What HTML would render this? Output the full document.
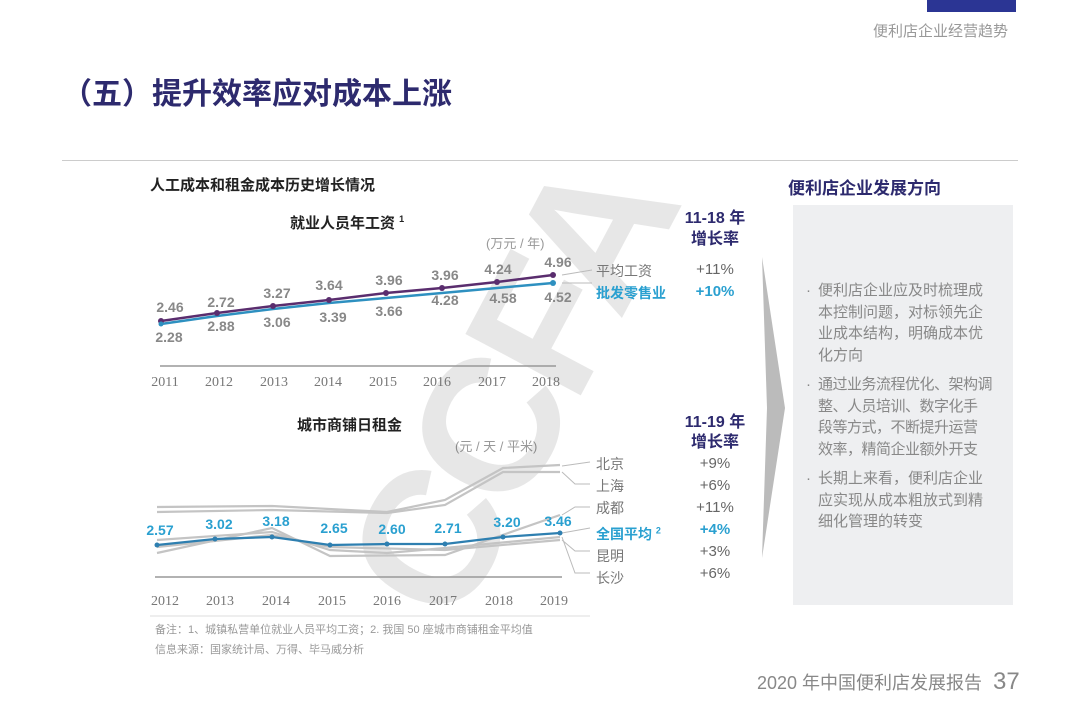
<!DOCTYPE html>
<html><head><meta charset="utf-8"><style>
body{margin:0;width:1080px;height:722px;background:#fff;position:relative;overflow:hidden;font-family:"Liberation Sans","Noto Sans CJK SC",sans-serif}
.a{position:absolute;white-space:nowrap}
</style></head><body>
<div class="a" style="left:927px;top:0;width:89px;height:12px;background:#2b3594"></div>
<div class="a" style="left:873px;top:20px;font-size:15px;color:#999">便利店企业经营趋势</div>
<div class="a" style="left:62px;top:69px;font-size:30px;font-weight:bold;color:#2d2a6e">（五）提升效率应对成本上涨</div>
<div class="a" style="left:62px;top:160px;width:956px;height:1px;background:#ccc"></div>
<div class="a" style="left:150px;top:174px;font-size:15px;font-weight:bold;color:#222">人工成本和租金成本历史增长情况</div>
<div class="a" style="left:788px;top:174px;font-size:17px;font-weight:bold;color:#2d2a6e">便利店企业发展方向</div>
<div class="a" style="left:290px;top:212px;font-size:15px;font-weight:bold;color:#222">就业人员年工资 <sup style="font-size:9px">1</sup></div>
<div class="a" style="left:297px;top:414px;font-size:15px;font-weight:bold;color:#222">城市商铺日租金</div>
<div class="a" style="left:486px;top:233px;font-size:13px;color:#999">(万元 / 年)</div>
<div class="a" style="left:455px;top:436px;font-size:13px;color:#999">(元 / 天 / 平米)</div>
<div class="a" style="transform:translate(-50%,-50%) rotate(-62deg);left:510px;top:390px;font-size:190px;color:#000;opacity:0.09;font-weight:bold;letter-spacing:-10px">CCFA</div>
<div class="a" style="left:793px;top:205px;width:220px;height:400px;background:#eeeff1"></div>
<svg class="a" style="left:0;top:0" width="1080" height="722">
<polygon points="762,257 785,408 762,558 767,408" fill="#bbb"/>
<line x1="160" y1="366" x2="556" y2="366" stroke="#999" stroke-width="1.5"/>
<polyline points="161,324 217,316 273,309 329,303 386,298 442,293 497,288 553,283" fill="none" stroke="#2e90c0" stroke-width="2.5"/>
<polyline points="161,321 217,313 273,306 329,300 386,293 442,288 497,282 553,275" fill="none" stroke="#5a2d6e" stroke-width="2.5"/>
<g fill="#5a2d6e"><circle cx="161" cy="321" r="3"/><circle cx="217" cy="313" r="3"/><circle cx="273" cy="306" r="3"/><circle cx="329" cy="300" r="3"/><circle cx="386" cy="293" r="3"/><circle cx="442" cy="288" r="3"/><circle cx="497" cy="282" r="3"/><circle cx="553" cy="275" r="3"/></g>
<g fill="#2e90c0"><circle cx="161" cy="324" r="2.5"/><circle cx="553" cy="283" r="3"/></g>
<g font-size="14" font-weight="bold" fill="#888" text-anchor="middle" font-family="Liberation Sans">
<text x="170" y="312">2.46</text><text x="221" y="307">2.72</text><text x="277" y="298">3.27</text><text x="329" y="290">3.64</text><text x="389" y="285">3.96</text><text x="445" y="280">3.96</text><text x="498" y="274">4.24</text><text x="558" y="267">4.96</text>
<text x="169" y="342">2.28</text><text x="221" y="331">2.88</text><text x="277" y="327">3.06</text><text x="333" y="322">3.39</text><text x="389" y="316">3.66</text><text x="445" y="305">4.28</text><text x="503" y="303">4.58</text><text x="558" y="302">4.52</text>
</g>
<g font-size="14" fill="#777" text-anchor="middle" font-family="Liberation Serif">
<text x="165" y="386">2011</text><text x="219" y="386">2012</text><text x="274" y="386">2013</text><text x="328" y="386">2014</text><text x="383" y="386">2015</text><text x="437" y="386">2016</text><text x="492" y="386">2017</text><text x="546" y="386">2018</text>
<text x="165" y="605">2012</text><text x="220" y="605">2013</text><text x="276" y="605">2014</text><text x="332" y="605">2015</text><text x="387" y="605">2016</text><text x="443" y="605">2017</text><text x="499" y="605">2018</text><text x="554" y="605">2019</text>
</g>
<g stroke="#bbb" fill="none" stroke-width="1">
<polyline points="562,275 592,270"/><polyline points="562,283 592,283"/>
<polyline points="562,466 590,462"/><polyline points="562,472 575,484 590,484"/><polyline points="562,515 575,507 590,507"/><polyline points="562,533 590,528"/><polyline points="562,540 575,551 590,551"/><polyline points="562,537 575,573 590,573"/>
</g>
<line x1="155" y1="577" x2="562" y2="577" stroke="#999" stroke-width="1.5"/>
<g fill="none" stroke="#c4c4c4" stroke-width="2.2">
<polyline points="157,507 272,506 387,512 445,500 503,468 560,465"/>
<polyline points="157,512 272,510 387,513 445,505 503,472 560,472"/>
<polyline points="157,553 272,528 330,556 445,555 560,515"/>
<polyline points="157,547 272,535 330,547 445,550 560,540"/>
<polyline points="157,540 272,532 330,550 387,553 445,548 560,537"/>
</g>
<polyline points="157,545 215,539 272,537 330,545 387,544 445,544 503,537 560,533" fill="none" stroke="#2e7fb0" stroke-width="2.2"/>
<g fill="#2e7fb0"><circle cx="157" cy="545" r="2.5"/><circle cx="215" cy="539" r="2.5"/><circle cx="272" cy="537" r="2.5"/><circle cx="330" cy="545" r="2.5"/><circle cx="387" cy="544" r="2.5"/><circle cx="445" cy="544" r="2.5"/><circle cx="503" cy="537" r="2.5"/><circle cx="560" cy="533" r="2.5"/></g>
<g font-size="14" font-weight="bold" fill="#2aa0d0" text-anchor="middle" font-family="Liberation Sans">
<text x="160" y="535">2.57</text><text x="219" y="529">3.02</text><text x="276" y="526">3.18</text><text x="334" y="533">2.65</text><text x="392" y="534">2.60</text><text x="448" y="533">2.71</text><text x="507" y="527">3.20</text><text x="558" y="526">3.46</text>
</g>
<line x1="150" y1="616" x2="590" y2="616" stroke="#ddd"/>
</svg>
<div class="a" style="left:596px;top:261px;font-size:14px;color:#777">平均工资</div>
<div class="a" style="left:596px;top:283px;font-size:14px;font-weight:bold;color:#2aa0d0">批发零售业</div>
<div class="a" style="left:677px;top:208px;font-size:16px;font-weight:bold;color:#2d2a6e;text-align:center;width:76px;line-height:21px">11-18 年<br>增长率</div>
<div class="a" style="left:677px;top:413px;font-size:16px;font-weight:bold;color:#2d2a6e;text-align:center;width:76px;line-height:20px">11-19 年<br>增长率</div>
<div class="a" style="left:677px;top:261px;width:76px;text-align:center;font-size:15px;color:#666">+11%</div>
<div class="a" style="left:677px;top:283px;width:76px;text-align:center;font-size:15px;font-weight:bold;color:#2aa0d0">+10%</div>
<div class="a" style="left:596px;top:453px;font-size:14px;color:#777;line-height:22px">北京<br>上海<br>成都<br><span style="color:#2aa0d0;font-weight:bold">全国平均 <sup style="font-size:9px">2</sup></span><br>昆明<br>长沙</div>
<div class="a" style="left:677px;top:453px;width:76px;text-align:center;font-size:15px;color:#666;line-height:22px">+9%<br>+6%<br>+11%<br><span style="color:#2aa0d0;font-weight:bold">+4%</span><br>+3%<br>+6%</div>
<div class="a" style="left:806px;top:280px;font-size:15px;color:#888;line-height:21.5px">
<div style="position:relative;padding-left:12px;margin-bottom:8px"><span style="position:absolute;left:0">·</span>便利店企业应及时梳理成<br>本控制问题，对标领先企<br>业成本结构，明确成本优<br>化方向</div>
<div style="position:relative;padding-left:12px;margin-bottom:8px;letter-spacing:-0.5px"><span style="position:absolute;left:0">·</span>通过业务流程优化、架构调<br>整、人员培训、数字化手<br>段等方式，不断提升运营<br>效率，精简企业额外开支</div>
<div style="position:relative;padding-left:12px"><span style="position:absolute;left:0">·</span>长期上来看，便利店企业<br>应实现从成本粗放式到精<br>细化管理的转变</div>
</div>
<div class="a" style="left:155px;top:620px;font-size:11px;color:#999;line-height:20px">备注：1、城镇私营单位就业人员平均工资；2. 我国 50 座城市商铺租金平均值<br>信息来源：国家统计局、万得、毕马威分析</div>
<div class="a" style="left:757px;top:668px;font-size:18px;color:#888">2020 年中国便利店发展报告 <span style="font-size:24px;margin-left:6px">37</span></div>
</body></html>
